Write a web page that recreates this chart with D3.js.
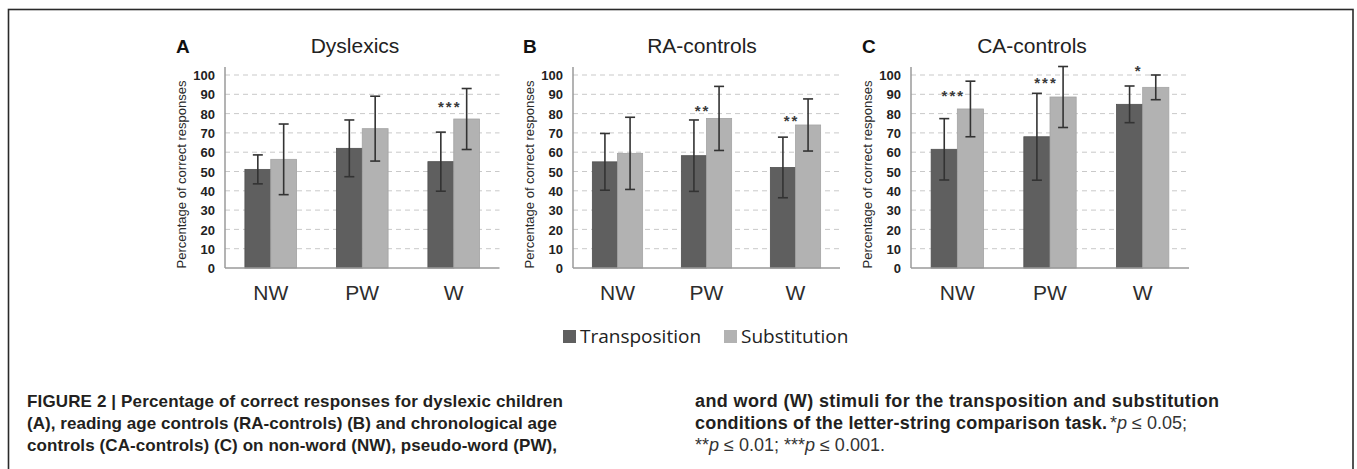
<!DOCTYPE html>
<html>
<head>
<meta charset="utf-8">
<script src="https://cdn.jsdelivr.net/npm/d3@7"></script>
<style>
  html, body { margin: 0; padding: 0; background: #fff; }
  svg { display: block; }
</style>
</head>
<body>
<svg id="chart" width="1357" height="469"></svg>
<script>
// ---------------- DATA ----------------
const categories = ["NW", "PW", "W"];
const seriesNames = ["Transposition", "Substitution"];
const panelTitles = ["Dyslexics", "RA-controls", "CA-controls"];
const panelLetters = ["A", "B", "C"];
const yTicks = [0, 10, 20, 30, 40, 50, 60, 70, 80, 90, 100];
const yAxisTitle = "Percentage of correct responses";

const dyslexicsTransposition    = [51.1, 62.0, 55.1];
const dyslexicsTranspositionErr = [7.5, 14.7, 15.3];
const dyslexicsSubstitution     = [56.3, 72.2, 77.2];
const dyslexicsSubstitutionErr  = [18.3, 16.8, 15.8];
const dyslexicsSig  = ["", "", "***"];
const dyslexicsSigY = [null, null, 85];

const raTransposition    = [55.0, 58.2, 52.1];
const raTranspositionErr = [14.7, 18.5, 15.7];
const raSubstitution     = [59.4, 77.5, 74.1];
const raSubstitutionErr  = [18.7, 16.6, 13.5];
const raSig  = ["", "**", "**"];
const raSigY = [null, 83, 78];

const caTransposition    = [61.5, 68.0, 84.8];
const caTranspositionErr = [15.9, 22.5, 9.5];
const caSubstitution     = [82.4, 88.6, 93.6];
const caSubstitutionErr  = [14.4, 15.8, 6.4];
const caSig  = ["***", "***", "*"];
const caSigY = [91, 97.5, 104];

const captionLeft = [
  "FIGURE 2 | Percentage of correct responses for dyslexic children",
  "(A), reading age controls (RA-controls) (B) and chronological age",
  "controls (CA-controls) (C) on non-word (NW), pseudo-word (PW),"
];

// ---------------- LAYOUT / STYLE ----------------
const colors = ["#5f5f5f", "#b2b2b2"];
const strokeColors = ["#505050", "#a4a4a4"];
const panelLayout = [
  { x0: 225, x1: 499.5, titleX: 355, letterX: 176 },
  { x0: 573, x1: 840,   titleX: 702, letterX: 523 },
  { x0: 911, x1: 1189,  titleX: 1032, letterX: 862 }
];
const yTop = 75, yBottom = 268;
const captionLeftWidths = [536, 530, 530];

const panelData = [
  { trans: dyslexicsTransposition, transErr: dyslexicsTranspositionErr,
    subst: dyslexicsSubstitution, substErr: dyslexicsSubstitutionErr,
    sig: dyslexicsSig, sigY: dyslexicsSigY },
  { trans: raTransposition, transErr: raTranspositionErr,
    subst: raSubstitution, substErr: raSubstitutionErr,
    sig: raSig, sigY: raSigY },
  { trans: caTransposition, transErr: caTranspositionErr,
    subst: caSubstitution, substErr: caSubstitutionErr,
    sig: caSig, sigY: caSigY }
];

const svg = d3.select("#chart");

// figure border
svg.append("rect")
  .attr("x", 8.5).attr("y", 9.5)
  .attr("width", 1344.5).attr("height", 480)
  .attr("fill", "none").attr("stroke", "#2a2a2a").attr("stroke-width", 1.6);

const y = d3.scaleLinear().domain([0, 100]).range([yBottom, yTop]);

panelData.forEach((pd, pi) => {
  const L = panelLayout[pi];
  const g = svg.append("g");

  const x = d3.scaleBand().domain(categories)
    .range([L.x0, L.x1]).paddingInner(0.435).paddingOuter(0.2175);
  const xs = d3.scaleBand().domain(seriesNames).range([0, x.bandwidth()]);

  // gridlines
  g.selectAll(".grid").data(yTicks.filter(t => t > 0)).enter()
    .append("line")
    .attr("x1", L.x0).attr("x2", L.x1)
    .attr("y1", d => y(d)).attr("y2", d => y(d))
    .attr("stroke", "#c9c9c9").attr("stroke-width", 1)
    .attr("stroke-dasharray", "5,4");

  // y axis
  const yAxis = d3.axisLeft(y).tickValues(yTicks).tickSize(0).tickPadding(10);
  const ya = g.append("g").attr("transform", `translate(${L.x0},0)`).call(yAxis);
  ya.select(".domain").remove();
  ya.selectAll("text")
    .attr("font-family", "Liberation Sans, Arial, sans-serif")
    .attr("font-weight", "bold").attr("font-size", 13).attr("fill", "#222")
    .attr("dy", "0.36em");
  g.append("line")
    .attr("x1", L.x0).attr("x2", L.x0)
    .attr("y1", y(0)).attr("y2", y(100) - 8)
    .attr("stroke", "#9a9a9a").attr("stroke-width", 1.5);

  // bars
  const rows = categories.map((c, i) => ({
    cat: c,
    vals: [
      { s: seriesNames[0], v: pd.trans[i], e: pd.transErr[i], k: 0 },
      { s: seriesNames[1], v: pd.subst[i], e: pd.substErr[i], k: 1 }
    ]
  }));
  const cg = g.selectAll(".cat").data(rows).enter().append("g")
    .attr("transform", d => `translate(${x(d.cat)},0)`);
  cg.selectAll("rect").data(d => d.vals).enter().append("rect")
    .attr("x", d => xs(d.s)).attr("width", xs.bandwidth())
    .attr("y", d => y(d.v)).attr("height", d => y(0) - y(d.v))
    .attr("fill", d => colors[d.k]).attr("stroke", d => strokeColors[d.k])
    .attr("stroke-width", 0.8);

  // error bars
  const eb = cg.selectAll(".err").data(d => d.vals).enter().append("g")
    .attr("stroke", "#333").attr("stroke-width", 1.6);
  eb.append("line")
    .attr("x1", d => xs(d.s) + xs.bandwidth() / 2).attr("x2", d => xs(d.s) + xs.bandwidth() / 2)
    .attr("y1", d => y(d.v + d.e)).attr("y2", d => y(d.v - d.e));
  eb.append("line")
    .attr("x1", d => xs(d.s) + xs.bandwidth() / 2 - 5).attr("x2", d => xs(d.s) + xs.bandwidth() / 2 + 5)
    .attr("y1", d => y(d.v + d.e)).attr("y2", d => y(d.v + d.e));
  eb.append("line")
    .attr("x1", d => xs(d.s) + xs.bandwidth() / 2 - 5).attr("x2", d => xs(d.s) + xs.bandwidth() / 2 + 5)
    .attr("y1", d => y(d.v - d.e)).attr("y2", d => y(d.v - d.e));

  // x axis baseline
  g.append("line")
    .attr("x1", L.x0).attr("x2", L.x1)
    .attr("y1", y(0)).attr("y2", y(0))
    .attr("stroke", "#9a9a9a").attr("stroke-width", 1.5);

  // category labels via axis
  const xAxis = d3.axisBottom(x).tickSize(0).tickPadding(0);
  const xa = g.append("g").attr("transform", `translate(0,${y(0)})`).call(xAxis);
  xa.select(".domain").remove();
  xa.selectAll("text")
    .attr("font-family", "Liberation Sans, Arial, sans-serif")
    .attr("font-size", 21).attr("fill", "#2d2d2d")
    .attr("y", 32).attr("dy", 0);

  // significance stars
  categories.forEach((c, i) => {
    if (!pd.sig[i]) return;
    g.append("text")
      .attr("x", x(c) + x.bandwidth() / 2 - 4)
      .attr("y", y(pd.sigY[i]) + 8.5)
      .attr("text-anchor", "middle")
      .attr("font-family", "Liberation Sans, Arial, sans-serif")
      .attr("font-weight", "bold").attr("font-size", 15)
      .attr("letter-spacing", 2)
      .attr("fill", "#3a3a3a")
      .text(pd.sig[i]);
  });

  // y axis title
  g.append("text")
    .attr("transform", `translate(${L.x0 - 39},${(y(0) + y(100)) / 2 + 3}) rotate(-90)`)
    .attr("text-anchor", "middle")
    .attr("font-family", "Liberation Sans, Arial, sans-serif")
    .attr("font-size", 13).attr("fill", "#2a2a2a")
    .text(yAxisTitle);

  // panel title & letter
  g.append("text")
    .attr("x", L.titleX).attr("y", 52.5)
    .attr("text-anchor", "middle")
    .attr("font-family", "Liberation Sans, Arial, sans-serif")
    .attr("font-size", 21).attr("fill", "#222")
    .text(panelTitles[pi]);
  g.append("text")
    .attr("x", L.letterX).attr("y", 52.5)
    .attr("font-family", "Liberation Sans, Arial, sans-serif")
    .attr("font-weight", "bold").attr("font-size", 19).attr("fill", "#111")
    .text(panelLetters[pi]);
});

// legend
const legend = svg.append("g");
const legendX = [563, 724];
seriesNames.forEach((s, i) => {
  legend.append("rect")
    .attr("x", legendX[i]).attr("y", 330)
    .attr("width", 13).attr("height", 13)
    .attr("fill", colors[i]);
  legend.append("text")
    .attr("x", legendX[i] + 17).attr("y", 343)
    .attr("font-family", "Open Sans, Noto Sans, sans-serif")
    .attr("font-size", 19).attr("fill", "#222")
    .text(s);
});

// caption
const cap = svg.append("g")
  .attr("font-family", "Liberation Sans, Arial, sans-serif")
  .attr("fill", "#231f20");
captionLeft.forEach((t, i) => {
  cap.append("text").attr("x", 27).attr("y", 407 + i * 22)
    .attr("font-size", 17)
    .attr("textLength", captionLeftWidths[i]).attr("lengthAdjust", "spacing")
    .attr("font-weight", "bold").text(t);
});
const rightSize = 18;
cap.append("text").attr("x", 695).attr("y", 407)
  .attr("font-size", rightSize).attr("font-weight", "bold")
  .attr("textLength", 524).attr("lengthAdjust", "spacing")
  .text("and word (W) stimuli for the transposition and substitution");
cap.append("text").attr("x", 695).attr("y", 429)
  .attr("font-size", rightSize).attr("font-weight", "bold")
  .attr("textLength", 412).attr("lengthAdjust", "spacing")
  .text("conditions of the letter-string comparison task.");
const r2 = cap.append("text").attr("x", 1110).attr("y", 429)
  .attr("font-size", rightSize).attr("fill", "#333");
r2.append("tspan").text("*");
r2.append("tspan").attr("font-style", "italic").text("p");
r2.append("tspan").text(" \u2264 0.05;");
const r3 = cap.append("text").attr("x", 695).attr("y", 451)
  .attr("font-size", rightSize).attr("fill", "#333");
r3.append("tspan").text("**");
r3.append("tspan").attr("font-style", "italic").text("p");
r3.append("tspan").text(" \u2264 0.01; ***");
r3.append("tspan").attr("font-style", "italic").text("p");
r3.append("tspan").text(" \u2264 0.001.");
</script>
</body>
</html>
